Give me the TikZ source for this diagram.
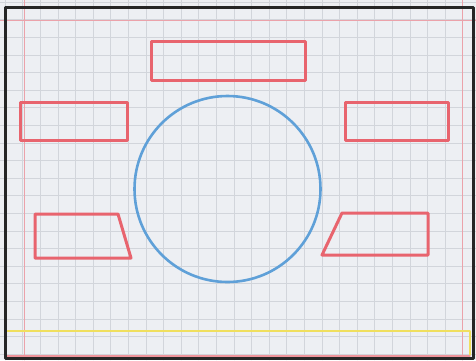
\documentclass[tikz,border=0pt]{standalone}
\usepackage{tikz}
\definecolor{paper}{HTML}{EDEFF3}
\definecolor{gridgray}{HTML}{D2D5DB}
\definecolor{marker}{HTML}{E8646E}
\definecolor{guide}{HTML}{EBA2AA}
\definecolor{pencilblue}{HTML}{5FA0D8}
\definecolor{highlight}{HTML}{F0DF5E}
\begin{document}
\begin{tikzpicture}[x=1pt,y=-1pt,line cap=round,line join=round]
  \useasboundingbox (0,0) rectangle (476,360);
  % paper and grid
  \fill[paper] (0,0) rectangle (476,360);
  \foreach \gx in {0,...,27} \draw[gridgray,line width=0.4pt] (5+17.6*\gx,0) -- (5+17.6*\gx,360);
  \foreach \gy in {0,...,20} \draw[gridgray,line width=0.4pt] (0,2+17.6*\gy) -- (476,2+17.6*\gy);
  % margin guides
  \draw[guide,line width=0.9pt] (0,20) -- (476,20);
  \draw[guide,line width=0.9pt] (24,0) -- (24,360);
  \draw[guide,line width=0.9pt] (462,0) -- (462,360);
  % bottom strip
  \draw[highlight,line width=1.6pt] (7,331) -- (470,331) -- (470,355);
  \draw[marker!70,line width=1.4pt] (7,356) -- (470,356);
  % frame
  \draw[black!85,line width=3pt] (5,7) -- (473,7) -- (473,358) -- (5,358) -- cycle;
  % screen
  \coordinate (O) at (227.5,189);
  \draw[pencilblue,line width=2.6pt] (O) circle (93);
  % boxes
  \coordinate (T1) at (151,41);  \coordinate (T2) at (305,80);
  \coordinate (L1) at (20,102);  \coordinate (L2) at (127,140);
  \coordinate (R1) at (345,102); \coordinate (R2) at (448,140);
  \draw[marker,line width=3pt] (T1) rectangle (T2);
  \draw[marker,line width=3pt] (L1) rectangle (L2);
  \draw[marker,line width=3pt] (R1) rectangle (R2);
  \draw[marker,line width=3pt] (35,214) -- (118,214) -- (131,258) -- (35,258) -- cycle;
  \draw[marker,line width=3pt] (342,213) -- (428,213) -- (428,255) -- (322,255) -- cycle;
\end{tikzpicture}
\end{document}
